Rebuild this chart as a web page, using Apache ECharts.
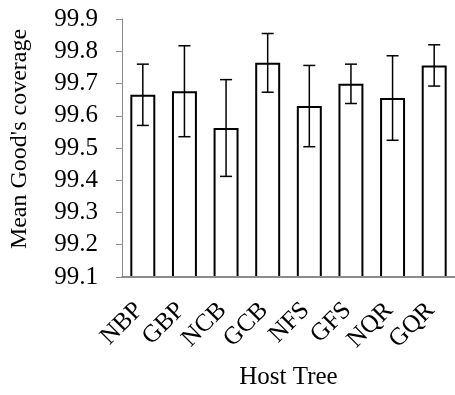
<!DOCTYPE html>
<html>
<head>
<meta charset="utf-8">
<script src="https://cdn.jsdelivr.net/npm/echarts@6/dist/echarts.min.js"></script>
<style>
  html, body { margin: 0; padding: 0; background: #fff; }
  #chart { width: 455px; height: 395px; }
</style>
</head>
<body>
<div id="chart"></div>
<script>
// Host tree groups along the x axis
const categories = ['NBP', 'GBP', 'NCB', 'GCB', 'NFS', 'GFS', 'NQR', 'GQR'];
// Mean Good's coverage per host tree
const meanCoverage = [99.665, 99.676, 99.562, 99.764, 99.630, 99.699, 99.655, 99.756];
// Half-length of each error bar
const errorSize = [0.095, 0.141, 0.150, 0.091, 0.126, 0.061, 0.131, 0.064];
// Y axis range and step
const yMin = 99.1, yMax = 99.9, yStep = 0.1;

const FONT = "'Liberation Serif', 'Times New Roman', serif";
const chart = echarts.init(document.getElementById('chart'));

const errorData = categories.map((c, i) => [i, meanCoverage[i] - errorSize[i], meanCoverage[i] + errorSize[i]]);

chart.setOption({
  animation: false,
  grid: { left: 112, right: -7, top: 19, bottom: 112, containLabel: false },
  xAxis: {
    type: 'category',
    data: categories,
    z: 5,
    axisLine: { lineStyle: { color: '#8c8c8c', width: 2 } },
    axisTick: { show: false },
    axisLabel: { interval: 0, rotate: 45, margin: 26, padding: [0, 5, 0, 0],
      fontFamily: FONT, fontSize: 25, color: '#000' },
    name: 'Host Tree',
    nameLocation: 'middle',
    nameGap: 88,
    nameTextStyle: { fontFamily: FONT, fontSize: 25, color: '#000' }
  },
  yAxis: {
    type: 'value',
    min: yMin, max: yMax, interval: yStep,
    axisLine: { show: true, lineStyle: { color: '#8c8c8c', width: 1 } },
    axisTick: { show: true, inside: false, length: 6, lineStyle: { color: '#8c8c8c' } },
    splitLine: { show: false },
    axisLabel: { margin: 24, fontFamily: FONT, fontSize: 25, color: '#000',
      formatter: v => v.toFixed(1) },
    name: "Mean Good's coverage",
    nameLocation: 'middle',
    nameGap: 90,
    nameTextStyle: { fontFamily: FONT, fontSize: 24, color: '#000', padding: [0, 0, 0, 18] }
  },
  series: [
    {
      type: 'bar',
      data: meanCoverage,
      barCategoryGap: '40%',
      itemStyle: { color: '#fff', borderColor: '#000', borderWidth: 2 }
    },
    {
      type: 'custom',
      data: errorData,
      z: 4,
      renderItem: function (params, api) {
        const x = api.value(0);
        const lo = api.coord([x, api.value(1)]);
        const hi = api.coord([x, api.value(2)]);
        const cap = 6;
        const style = { stroke: '#000', lineWidth: 1.5 };
        return {
          type: 'group',
          children: [
            { type: 'line', shape: { x1: hi[0], y1: hi[1], x2: lo[0], y2: lo[1] }, style },
            { type: 'line', shape: { x1: hi[0] - cap, y1: hi[1], x2: hi[0] + cap, y2: hi[1] }, style },
            { type: 'line', shape: { x1: lo[0] - cap, y1: lo[1], x2: lo[0] + cap, y2: lo[1] }, style }
          ]
        };
      }
    }
  ]
});
</script>
</body>
</html>
